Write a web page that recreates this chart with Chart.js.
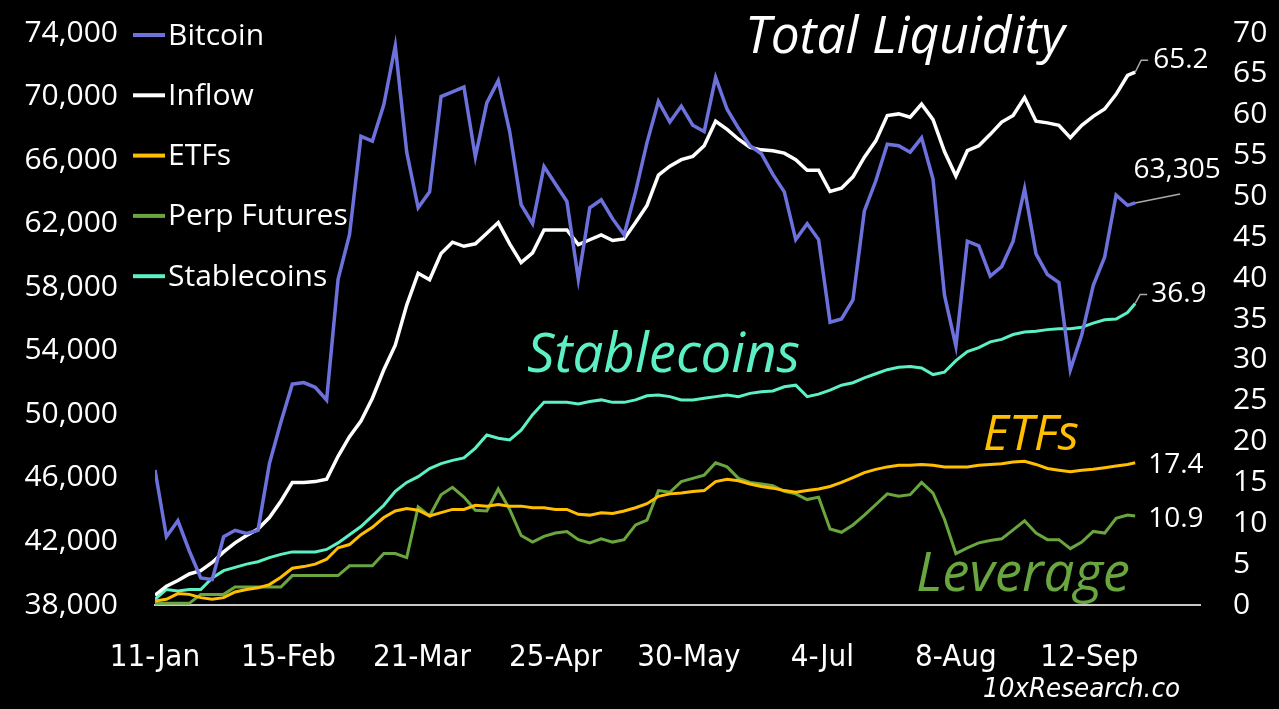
<!DOCTYPE html>
<html>
<head>
<meta charset="utf-8">
<title>Total Liquidity</title>
<script src="https://cdn.jsdelivr.net/npm/chart.js@4.4.1/dist/chart.umd.min.js"></script>
<style>
  html, body { margin: 0; padding: 0; background: #000; overflow: hidden; }
  #wrap { width: 1279px; height: 709px; position: relative; }
</style>
</head>
<body>
<div id="wrap"><canvas id="liquidityChart"></canvas></div>
<script>
// days since 11-Jan
const days = [0,3,6,9,12,15,18,21,24,27,30,33,36,39,42,45,48,51,54,57,60,63,66,69,72,75,78,81,84,87,
  90,93,96,99,102,105,108,111,114,117,120,123,126,129,132,135,138,141,144,147,150,153,156,159,162,165,168,171,174,177,
  180,183,186,189,192,195,198,201,204,207,210,213,216,219,222,225,228,231,234,237,240,243,246,249,252,255,257];

const tickDays = [0, 35, 70, 105, 140, 175, 210, 245];
const tickLabels = ['11-Jan', '15-Feb', '21-Mar', '25-Apr', '30-May', '4-Jul', '8-Aug', '12-Sep'];

const bitcoin = [46500,42300,43300,41400,39700,39600,42300,42700,42500,42700,46900,49500,51900,52000,51700,50900,58500,61300,67500,67200,
  69500,73200,66500,63000,64000,70000,70300,70600,66200,69600,71000,67800,63200,62000,65600,64500,63400,58500,63000,63500,
  62300,61300,64000,67100,69700,68400,69400,68200,67800,71200,69200,68000,66900,66400,65100,64000,61000,62000,61000,55800,
  56000,57200,62800,64700,67000,66900,66500,67400,64800,57500,54300,60900,60600,58700,59300,60900,64200,60100,58800,58300,
  52800,55000,58100,59900,63800,63150,63305];

const inflow = [1.2,2.3,3.0,3.8,4.2,5.2,6.5,7.6,8.5,9.3,10.7,12.7,15.0,15.0,15.1,15.4,18.2,20.6,22.5,25.3,
  28.8,31.8,36.7,40.6,39.8,43.0,44.4,43.9,44.2,45.5,46.8,44.2,41.9,43.1,45.9,45.9,45.9,44.1,44.7,45.3,
  44.6,44.8,46.8,48.9,52.6,53.7,54.5,54.9,56.2,59.2,58.2,57.0,56.0,55.7,55.6,55.3,54.5,53.2,53.2,50.6,
  51.0,52.4,54.8,56.8,59.9,60.1,59.7,61.3,59.4,55.5,52.5,55.6,56.2,57.6,59.1,59.9,62.1,59.2,59.0,58.7,
  57.2,58.7,59.8,60.7,62.5,64.8,65.2];

const etfs = [0.5,0.7,1.4,1.3,0.9,0.7,0.9,1.6,1.9,2.1,2.5,3.4,4.5,4.7,5.0,5.6,7.0,7.4,8.6,9.5,
  10.7,11.5,11.8,11.6,10.9,11.3,11.7,11.7,12.2,12.1,12.3,12.1,12.1,11.9,11.9,11.7,11.7,11.1,11.0,11.3,
  11.2,11.5,11.9,12.4,13.3,13.6,13.7,13.9,14.0,15.1,15.4,15.2,14.8,14.5,14.3,14.0,13.8,14.0,14.2,14.5,
  15.0,15.6,16.2,16.6,16.9,17.1,17.1,17.2,17.1,16.9,16.9,16.9,17.1,17.2,17.3,17.5,17.6,17.2,16.7,16.5,
  16.3,16.5,16.6,16.8,17.0,17.2,17.4];

const perpFutures = [0.2,0.2,0.2,0.2,1.3,1.3,1.3,2.2,2.2,2.2,2.2,2.2,3.6,3.6,3.6,3.6,3.6,4.8,4.8,4.8,
  6.3,6.3,5.8,12.0,10.9,13.5,14.4,13.2,11.6,11.5,14.2,11.7,8.5,7.7,8.4,8.8,9.0,8.0,7.6,8.1,
  7.7,8.0,9.8,10.4,14.0,13.8,15.1,15.5,15.9,17.4,16.9,15.5,15.0,14.8,14.6,13.9,13.6,12.9,13.2,9.3,
  8.9,9.8,11.0,12.3,13.6,13.3,13.5,15.0,13.7,10.5,6.3,7.0,7.6,7.9,8.1,9.2,10.3,8.8,8.0,8.0,
  6.9,7.7,9.0,8.8,10.6,11.0,10.9];

const stablecoins = [0.7,1.9,1.7,1.9,1.9,3.3,4.2,4.6,5.0,5.3,5.8,6.2,6.5,6.5,6.5,6.8,7.6,8.6,9.6,10.9,
  12.2,13.9,15.0,15.7,16.7,17.3,17.7,18.0,19.2,20.8,20.4,20.2,21.4,23.3,24.8,24.8,24.8,24.6,24.9,25.1,
  24.8,24.8,25.1,25.6,25.7,25.5,25.1,25.1,25.3,25.5,25.7,25.5,25.9,26.1,26.2,26.7,26.9,25.5,25.8,26.3,
  26.9,27.2,27.8,28.3,28.8,29.1,29.2,29.0,28.2,28.5,29.9,31.0,31.5,32.2,32.5,33.1,33.4,33.5,33.7,33.8,
  33.8,34.0,34.5,34.9,35.0,35.8,36.9];

const FONT = '"Open Sans", "Noto Sans", sans-serif';
const NARROW = '"DejaVu Sans Condensed", "Liberation Sans Narrow", sans-serif';
const colors = {
  bitcoin: '#6d71dc',
  inflow: '#ffffff',
  etfs: '#ffbf00',
  perp: '#6aa640',
  stable: '#5cf0c4'
};

const toPoints = (values) => values.map((v, i) => ({ x: days[i], y: v }));

function fitFont(ctx, text, style, family, width) {
  ctx.font = style + ' 40px ' + family;
  const w = ctx.measureText(text).width;
  ctx.font = style + ' ' + (40 * width / w).toFixed(1) + 'px ' + family;
}

const overlayPlugin = {
  id: 'overlay',
  afterDraw(chart) {
    const { ctx, scales } = chart;
    const xs = scales.x, yL = scales.yL, yR = scales.yR;
    const last = days.length - 1;
    const ex = xs.getPixelForValue(days[last]);
    ctx.save();

    // legend top-left
    const legend = [['Bitcoin', colors.bitcoin], ['Inflow', colors.inflow], ['ETFs', colors.etfs],
      ['Perp Futures', colors.perp], ['Stablecoins', colors.stable]];
    ctx.textAlign = 'left';
    ctx.textBaseline = 'middle';
    ctx.font = '30px ' + FONT;
    legend.forEach(([label, color], i) => {
      const y = 35 + i * 60.3;
      ctx.strokeStyle = color;
      ctx.lineWidth = 4;
      ctx.beginPath();
      ctx.moveTo(133, y);
      ctx.lineTo(165, y);
      ctx.stroke();
      ctx.fillStyle = '#fff';
      ctx.fillText(label, 168, y + 1);
    });

    // big italic captions
    ctx.textBaseline = 'alphabetic';
    const captions = [
      ['Total Liquidity', '#ffffff', 745, 1065, 53],
      ['Stablecoins', colors.stable, 527, 800, 372],
      ['ETFs', colors.etfs, 983, 1079, 450],
      ['Leverage', colors.perp, 916, 1130, 591]
    ];
    captions.forEach(([text, color, x0, x1, base]) => {
      fitFont(ctx, text, 'italic', FONT, x1 - x0);
      ctx.fillStyle = color;
      ctx.fillText(text, x0, base);
    });

    // end-of-line value labels
    ctx.font = '28px ' + FONT;
    ctx.fillStyle = '#fff';
    ctx.strokeStyle = '#aaaaaa';
    ctx.lineWidth = 1.5;
    ctx.textBaseline = 'middle';

    let ey = yR.getPixelForValue(inflow[last]);
    ctx.beginPath(); ctx.moveTo(ex, ey); ctx.lineTo(ex + 6, ey - 12); ctx.lineTo(ex + 13, ey - 12); ctx.stroke();
    ctx.fillText(inflow[last].toFixed(1), ex + 18, ey - 12);

    ey = yL.getPixelForValue(bitcoin[last]);
    ctx.beginPath(); ctx.moveTo(ex, ey); ctx.lineTo(ex + 45, ey - 9); ctx.stroke();
    ctx.textAlign = 'center';
    ctx.fillText(bitcoin[last].toLocaleString('en-US'), ex + 42, ey - 33);
    ctx.textAlign = 'left';

    ey = yR.getPixelForValue(stablecoins[last]);
    ctx.beginPath(); ctx.moveTo(ex, ey); ctx.lineTo(ex + 5, ey - 9); ctx.lineTo(ex + 12, ey - 9); ctx.stroke();
    ctx.fillText(stablecoins[last].toFixed(1), ex + 16, ey - 9);

    ey = yR.getPixelForValue(etfs[last]);
    ctx.fillText(etfs[last].toFixed(1), ex + 13, ey + 2);

    ey = yR.getPixelForValue(perpFutures[last]);
    ctx.fillText(perpFutures[last].toFixed(1), ex + 13, ey + 3);

    // source
    fitFont(ctx, '10xResearch.co', 'italic', NARROW, 197);
    ctx.textBaseline = 'alphabetic';
    ctx.fillText('10xResearch.co', 983, 697);
    ctx.restore();
  }
};

const line = (label, values, color, axis, width) => ({
  label,
  data: toPoints(values),
  borderColor: color,
  backgroundColor: color,
  borderWidth: width,
  pointRadius: 0,
  tension: 0,
  yAxisID: axis
});

new Chart(document.getElementById('liquidityChart'), {
  type: 'line',
  data: {
    datasets: [
      line('Bitcoin', bitcoin, colors.bitcoin, 'yL', 3.5),
      line('Inflow', inflow, colors.inflow, 'yR', 3.5),
      line('ETFs', etfs, colors.etfs, 'yR', 3),
      line('Perp Futures', perpFutures, colors.perp, 'yR', 3),
      line('Stablecoins', stablecoins, colors.stable, 'yR', 3)
    ]
  },
  options: {
    responsive: true,
    maintainAspectRatio: false,
    animation: false,
    layout: { padding: { top: 33, left: 0, right: 0, bottom: 0 } },
    plugins: { legend: { display: false }, tooltip: { enabled: false } },
    scales: {
      x: {
        type: 'linear',
        min: 0,
        max: 274,
        afterBuildTicks: (scale) => { scale.ticks = tickDays.map((v) => ({ value: v })); },
        afterFit: (scale) => { scale.height = 104; },
        grid: { display: false, drawTicks: false },
        border: { display: true, color: '#c8c8c8', width: 2 },
        ticks: {
          autoSkip: false,
          maxRotation: 0,
          padding: 34,
          color: '#fff',
          font: { family: NARROW, size: 31 },
          callback: (value) => tickLabels[tickDays.indexOf(value)]
        }
      },
      yL: {
        position: 'left',
        min: 38000,
        max: 74000,
        afterBuildTicks: (scale) => {
          const t = [];
          for (let v = 38000; v <= 74000; v += 4000) t.push({ value: v });
          scale.ticks = t;
        },
        afterFit: (scale) => { scale.width = 155; },
        grid: { display: false, drawTicks: true, tickLength: 37 },
        border: { display: false },
        ticks: {
          padding: 0,
          color: '#fff',
          font: { family: FONT, size: 30 },
          callback: (value) => value.toLocaleString('en-US')
        }
      },
      yR: {
        position: 'right',
        min: 0,
        max: 70,
        afterBuildTicks: (scale) => {
          const t = [];
          for (let v = 0; v <= 70; v += 5) t.push({ value: v });
          scale.ticks = t;
        },
        afterFit: (scale) => { scale.width = 79; },
        grid: { display: false, drawTicks: true, tickLength: 33 },
        border: { display: false },
        ticks: {
          padding: 0,
          color: '#fff',
          font: { family: FONT, size: 30 }
        }
      }
    }
  },
  plugins: [overlayPlugin]
});
</script>
</body>
</html>
